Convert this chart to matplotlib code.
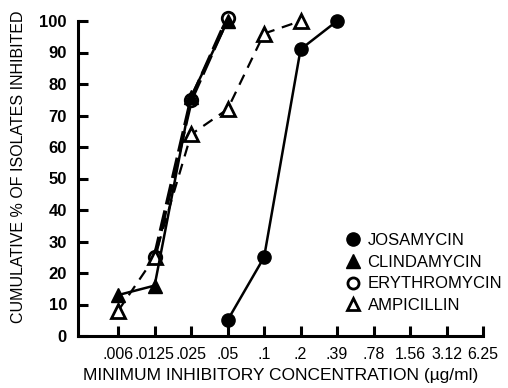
import matplotlib
matplotlib.use("Agg")
import matplotlib.pyplot as plt
from matplotlib.lines import Line2D

# MIC dilution steps (ug/ml), plotted at equal spacing
mic_labels = [".006", ".0125", ".025", ".05", ".1", ".2", ".39", ".78", "1.56", "3.12", "6.25"]

# cumulative % inhibited; x given as index into mic_labels
josa_x = [3, 4, 5, 6]
josa_y = [5, 25, 91, 100]
clinda_x = [0, 1, 2, 3]
clinda_y = [13, 16, 76, 100]
ery_x = [1, 2, 3]
ery_y = [25, 75, 101]
ampi_x = [0, 1, 2, 3, 4, 5]
ampi_y = [8, 25, 64, 72, 96, 100]

yticks = list(range(0, 101, 10))

plt.rcParams["font.family"] = ["Liberation Sans", "DejaVu Sans"]

fig = plt.figure(figsize=(5.08, 3.88), dpi=100)
ax = fig.add_axes([78 / 508, 1 - 336 / 388, (483 - 78) / 508, (336 - 21) / 388])

ax.plot(josa_x, josa_y, "-", color="black", lw=1.8, marker="o", ms=9.5,
        mfc="black", mec="black", clip_on=False, zorder=4)
ax.plot(clinda_x, clinda_y, "-", color="black", lw=1.8, marker="^", ms=10,
        mfc="black", mec="black", clip_on=False, zorder=4)
ax.plot(ery_x, ery_y, color="black", lw=3, dashes=(5, 1.5), marker="o", ms=9,
        mfc="white", mec="black", mew=2, clip_on=False, zorder=3)
ax.plot(ampi_x, ampi_y, color="black", lw=1.6, dashes=(5, 3.5), marker="^", ms=10,
        mfc="white", mec="black", mew=2, clip_on=False, zorder=3)

ax.set_xlim(-1.1, 10)
ax.set_ylim(0, 100)
ax.set_xticks(range(len(mic_labels)))
ax.set_xticklabels(mic_labels, fontsize=11.5)
ax.set_yticks(yticks)
ax.set_yticklabels([str(v) for v in yticks], fontsize=12, fontweight="bold")

for s in ["top", "right"]:
    ax.spines[s].set_visible(False)
for s in ["left", "bottom"]:
    ax.spines[s].set_linewidth(2.2)
ax.spines["left"].set_bounds(0, 100)
ax.spines["bottom"].set_bounds(-1.1, 10)
ax.tick_params(direction="in", length=7, width=2.2, pad=8)

ax.set_xlabel("MINIMUM INHIBITORY CONCENTRATION (\u00b5g/ml)", fontsize=12.5, labelpad=4)
ax.set_ylabel("CUMULATIVE % OF ISOLATES INHIBITED", fontsize=11.5)
ax.yaxis.set_label_coords(-0.128, 0.537)

handles = [
    Line2D([], [], ls="none", marker="o", ms=9.5, mfc="black", mec="black"),
    Line2D([], [], ls="none", marker="^", ms=10, mfc="black", mec="black"),
    Line2D([], [], ls="none", marker="o", ms=8, mfc="white", mec="black", mew=2),
    Line2D([], [], ls="none", marker="^", ms=9, mfc="white", mec="black", mew=2),
]
names = ["JOSAMYCIN", "CLINDAMYCIN", "ERYTHROMYCIN", "AMPICILLIN"]
ax.legend(handles, names, loc="upper left", bbox_to_anchor=(345 / 508, 1 - 233 / 388),
          bbox_transform=fig.transFigure, frameon=False, fontsize=12,
          handlelength=0.9, handletextpad=0.45, labelspacing=0.4,
          borderpad=0, borderaxespad=0)

fig.savefig("out.png", dpi=100)
